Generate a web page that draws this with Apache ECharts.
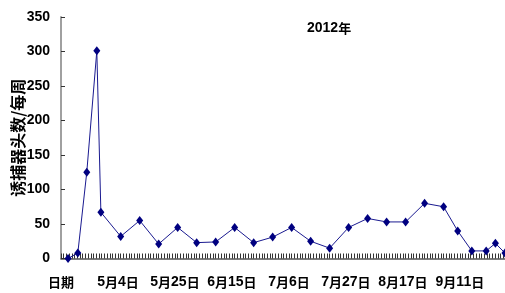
<!DOCTYPE html>
<html>
<head>
<meta charset="utf-8">
<script src="https://cdn.jsdelivr.net/npm/echarts@6/dist/echarts.min.js"></script>
<style>
html,body{margin:0;padding:0;background:#fff;}
#c{width:505px;height:293px;}
</style>
</head>
<body>
<div id="c"></div>
<script>
// Data
var titleText = '2012年';
var yName = '诱捕器头数/每周';
var xTickLabels = ['日期', '5月4日', '5月25日', '6月15日', '7月6日', '7月27日', '8月17日', '9月11日'];
var yTickLabels = [0, 50, 100, 150, 200, 250, 300, 350];
// day offset from the first axis label (日期) for each weekly count
var days = [2.6, 6.2, 9.5, 13.2, 14.7, 22, 29, 36, 43, 50, 57, 64, 71, 78, 85, 92, 99, 106, 113, 120, 127, 134, 141, 146.2, 151.4, 156.7, 160.1, 163.6];
var counts = [0, 8, 125, 301, 67, 32, 55, 21, 45, 23, 24, 45, 23, 31, 45, 25, 15, 45, 58, 53, 53, 80, 75, 40, 11, 11, 22, 8];

var DIGIT_FONT = "'Liberation Sans', Arial, sans-serif";
var CJK_FONT = "'Noto Sans CJK SC', sans-serif";

function toRich(s) {
  return String(s).replace(/(\d+)|([^\d]+)/g, function (m, d, c) {
    return d ? '{d|' + d + '}' : '{c|' + c + '}';
  });
}
var rich = {
  d: {fontFamily: DIGIT_FONT, fontWeight: 'bold', fontSize: 14, color: '#000'},
  c: {fontFamily: CJK_FONT, fontWeight: 'bold', fontSize: 13, color: '#000'}
};

var seriesData = days.map(function (d, i) { return [d, counts[i]]; });

var chart = echarts.init(document.getElementById('c'), null, {renderer: 'canvas'});
chart.setOption({
  animation: false,
  backgroundColor: '#fff',
  title: {
    text: toRich(titleText),
    left: 302,
    top: 16,
    textStyle: {rich: rich}
  },
  grid: {left: 61, top: 17, bottom: 34.5, width: 445, containLabel: false, outerBoundsMode: 'none'},
  xAxis: {
    type: 'value',
    min: 0,
    max: 164,
    interval: 21,
    splitLine: {show: false},
    axisLine: {lineStyle: {color: '#555', width: 1.5}},
    axisTick: {inside: true, length: 5, lineStyle: {color: '#333'}},
    minorTick: {show: true, splitNumber: 21, length: 5, lineStyle: {color: '#333'}},
    axisLabel: {
      margin: 17,
      showMaxLabel: false,
      hideOverlap: false,
      formatter: function (v) {
        var k = Math.round(v / 21);
        if (Math.abs(v - k * 21) < 1e-6 && k < xTickLabels.length) return toRich(xTickLabels[k]);
        return '';
      },
      rich: rich
    }
  },
  yAxis: {
    type: 'value',
    min: 0,
    max: 350,
    interval: 50,
    name: yName,
    nameLocation: 'middle',
    nameGap: 35,
    nameRotate: 90,
    nameMoveOverlap: false,
    nameTextStyle: {fontFamily: CJK_FONT, fontWeight: 'bold', fontSize: 16, color: '#000'},
    splitLine: {show: false},
    axisLine: {show: true, lineStyle: {color: '#a0a0a0', width: 2}},
    axisTick: {show: true, inside: true, length: 4, lineStyle: {color: '#333'}},
    axisLabel: {
      margin: 11,
      formatter: function (v) { return yTickLabels.indexOf(v) >= 0 ? toRich(v) : ''; },
      rich: rich
    }
  },
  series: [{
    type: 'line',
    data: seriesData,
    symbol: 'diamond',
    symbolSize: [7, 9],
    lineStyle: {color: '#1a1a90', width: 1},
    itemStyle: {color: '#000080'},
    clip: false
  }]
});
</script>
</body>
</html>
